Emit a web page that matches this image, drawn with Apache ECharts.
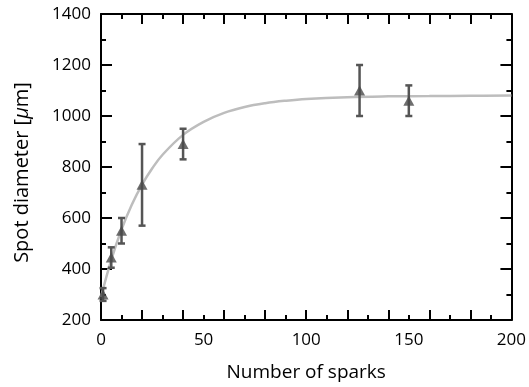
<!DOCTYPE html>
<html>
<head>
<meta charset="utf-8">
<script src="https://cdn.jsdelivr.net/npm/echarts@6/dist/echarts.min.js"></script>
<style>
  html, body { margin: 0; padding: 0; background: #fff; }
  #chart { width: 529px; height: 387px; }
</style>
</head>
<body>
<div id="chart"></div>
<script>
// Measured spot diameters (µm) versus number of sparks, with errors
const sparks = [1, 5, 10, 20, 40, 126, 150];
const diameter = [300, 445, 550, 730, 890, 1100, 1060];
const diameterErr = [25, 40, 50, 160, 60, 100, 60];

// Saturating fit curve through the measurements
const fitX = [0, 5, 10, 15, 20, 25, 30, 40, 50, 60, 70, 80, 90, 100, 120, 140, 160, 180, 200];
const fitY = [290, 436, 555, 652, 731, 795, 848, 926, 977, 1012, 1035, 1050, 1060, 1067, 1074, 1077, 1078, 1079, 1080];

const xLabelTicks = [0, 50, 100, 150, 200];
const yLabelTicks = [200, 400, 600, 800, 1000, 1200, 1400];

const FONT = 'Open Sans';
const chart = echarts.init(document.getElementById('chart'));

const tickAxis = (pos, showLabel, interval, min, max) => ({
  type: 'value', position: pos, min: min, max: max, interval: interval,
  axisLine: { show: true, onZero: false, lineStyle: { color: '#000', width: 2 } },
  axisTick: { show: true, inside: true, length: 10, lineStyle: { color: '#000', width: 2 } },
  minorTick: { show: true, splitNumber: 2, length: 5, lineStyle: { color: '#000', width: 2 } },
  splitLine: { show: false },
  axisLabel: { show: showLabel }
});

const xBottom = tickAxis('bottom', false, 20, 0, 200);
const xTop = tickAxis('top', false, 20, 0, 200);
const xLabels = {
  type: 'value', position: 'bottom', min: 0, max: 200, interval: 50,
  axisLine: { show: false }, axisTick: { show: false }, splitLine: { show: false },
  axisLabel: {
    show: true, margin: 12, color: '#000', fontFamily: FONT, fontSize: 17,
    formatter: v => (xLabelTicks.indexOf(v) >= 0 ? String(v) : '')
  },
  name: 'Number of sparks', nameLocation: 'middle', nameGap: 43,
  nameTextStyle: { color: '#000', fontFamily: FONT, fontSize: 19 }
};

const yLeft = tickAxis('left', true, 200, 200, 1400);
yLeft.axisTick.length = 11;
yLeft.axisLabel = {
  show: true, margin: 10, color: '#000', fontFamily: FONT, fontSize: 17,
  formatter: v => (yLabelTicks.indexOf(v) >= 0 ? String(v) : '')
};
yLeft.name = '{n|Spot diameter [}{i|μ}{n|m]}';
yLeft.nameLocation = 'middle';
yLeft.nameGap = 69;
yLeft.nameTextStyle = {
  padding: [0, 11, 0, 0],
  rich: {
    n: { color: '#000', fontFamily: FONT, fontSize: 20 },
    i: { color: '#000', fontFamily: FONT, fontSize: 20, fontStyle: 'italic' }
  }
};
const yRight = tickAxis('right', false, 200, 200, 1400);
yRight.axisTick.length = 11;

const errData = sparks.map((x, i) => [x, diameter[i] - diameterErr[i], diameter[i] + diameterErr[i]]);

chart.setOption({
  animation: false,
  backgroundColor: '#fff',
  grid: { left: 101, right: 16, top: 14, bottom: 64, containLabel: false },
  xAxis: [xBottom, xTop, xLabels],
  yAxis: [yLeft, yRight],
  series: [
    {
      type: 'line', xAxisIndex: 0, yAxisIndex: 0,
      data: fitX.map((x, i) => [x, fitY[i]]),
      smooth: 0.4, symbol: 'none',
      lineStyle: { color: '#bdbdbd', width: 2.5 },
      z: 2
    },
    {
      type: 'custom', xAxisIndex: 0, yAxisIndex: 0,
      data: errData,
      renderItem: (params, api) => {
        const x = api.value(0);
        const lo = api.coord([x, api.value(1)]);
        const hi = api.coord([x, api.value(2)]);
        const cap = 3.5;
        const style = { stroke: '#555', lineWidth: 2.5 };
        return {
          type: 'group',
          children: [
            { type: 'line', shape: { x1: lo[0], y1: lo[1], x2: hi[0], y2: hi[1] }, style: style },
            { type: 'line', shape: { x1: lo[0] - cap, y1: lo[1], x2: lo[0] + cap, y2: lo[1] }, style: style },
            { type: 'line', shape: { x1: hi[0] - cap, y1: hi[1], x2: hi[0] + cap, y2: hi[1] }, style: style }
          ]
        };
      },
      z: 3
    },
    {
      type: 'scatter', xAxisIndex: 0, yAxisIndex: 0,
      data: sparks.map((x, i) => [x, diameter[i]]),
      symbol: 'triangle', symbolSize: [11, 10],
      itemStyle: { color: '#4a4a4a' },
      z: 4
    }
  ]
});
</script>
</body>
</html>
